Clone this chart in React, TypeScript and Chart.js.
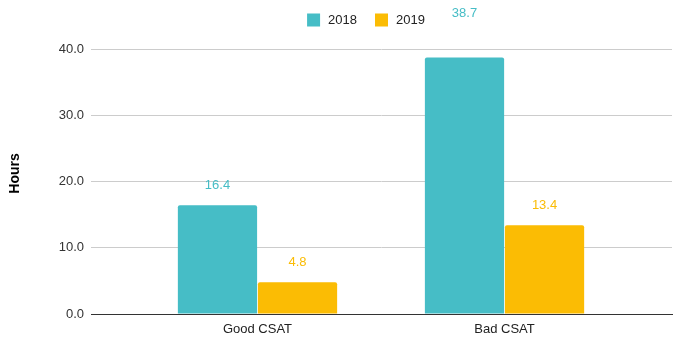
import React, { useEffect, useRef } from "react";
import { Chart, registerables } from "chart.js";

Chart.register(...registerables);

const categories = ["Good CSAT", "Bad CSAT"];
const seriesNames = ["2018", "2019"];
const values2018 = [16.4, 38.7];
const values2019 = [4.8, 13.4];
const yTicks = [0, 10, 20, 30, 40];
const yTitle = "Hours";
const colors = ["#46BDC6", "#FBBC04"];

const FONT = "'Liberation Sans', Arial, sans-serif";

const valueLabels = {
  id: "valueLabels",
  afterDatasetsDraw(chart: any) {
    const ctx = chart.ctx;
    const top = chart.chartArea.top;
    ctx.save();
    ctx.font = `13px ${FONT}`;
    ctx.textAlign = "center";
    ctx.textBaseline = "middle";
    chart.data.datasets.forEach((ds: any, di: number) => {
      const meta = chart.getDatasetMeta(di);
      meta.data.forEach((bar: any, i: number) => {
        const v = ds.data[i].y;
        let y = bar.y - 20;
        if (y < top) y = top - 36;
        ctx.fillStyle = colors[di];
        ctx.fillText(v.toFixed(1), bar.x, y);
      });
    });
    ctx.restore();
  },
};

const customLegend = {
  id: "customLegend",
  afterDraw(chart: any) {
    const ctx = chart.ctx;
    ctx.save();
    ctx.font = `13px ${FONT}`;
    ctx.textBaseline = "middle";
    ctx.textAlign = "left";
    const box = 13;
    const gap = 8;
    const itemGap = 18;
    const widths = seriesNames.map((n) => ctx.measureText(n).width);
    const total =
      widths.reduce((a, w) => a + box + gap + w, 0) + itemGap * (seriesNames.length - 1);
    let x = 366 - total / 2;
    const cy = 20;
    seriesNames.forEach((n, i) => {
      ctx.fillStyle = colors[i];
      ctx.fillRect(x, cy - box / 2, box, box);
      x += box + gap;
      ctx.fillStyle = "#222";
      ctx.fillText(n, x, cy + 0.5);
      x += widths[i] + itemGap;
    });
    // y-axis title
    const ca = chart.chartArea;
    ctx.translate(15, (ca.top + ca.bottom) / 2 - 8);
    ctx.rotate(-Math.PI / 2);
    ctx.font = `bold 14px ${FONT}`;
    ctx.fillStyle = "#000";
    ctx.textAlign = "center";
    ctx.textBaseline = "middle";
    ctx.fillText(yTitle, 0, 0);
    ctx.restore();
  },
};

export default function App() {
  const ref = useRef<HTMLCanvasElement>(null);
  useEffect(() => {
    if (!ref.current) return;
    const chart = new Chart(ref.current, {
      type: "bar",
      data: {
        datasets: [
          {
            label: seriesNames[0],
            data: categories.map((_, i) => ({ x: i, y: values2018[i] })),
            backgroundColor: colors[0],
            borderRadius: 2,
            borderSkipped: "bottom",
          },
          {
            label: seriesNames[1],
            data: categories.map((_, i) => ({ x: i, y: values2019[i] })),
            backgroundColor: colors[1],
            borderRadius: 2,
            borderSkipped: "bottom",
          },
        ] as any,
      },
      options: {
        animation: false,
        responsive: false,
        layout: { padding: { top: 49, right: 20, left: 0, bottom: 0 } },
        categoryPercentage: 0.648,
        barPercentage: 0.99,
        plugins: {
          legend: { display: false },
          tooltip: { enabled: false },
        },
        scales: {
          x: {
            type: "linear",
            offset: false,
            min: -0.674,
            max: 1.678,
            bounds: "data",
            afterBuildTicks: (scale: any) => {
              scale.ticks = categories.map((_, i) => ({ value: i }));
            },
            afterFit: (scale: any) => {
              scale.height = 42;
            },
            grid: { display: false, drawTicks: false, offset: false },
            border: { display: true, color: "#333", width: 1 },
            ticks: {
              padding: 8,
              color: "#222",
              font: { family: FONT, size: 13 },
              callback: (v: any) => categories[Math.round(Number(v))] ?? "",
            },
          },
          y: {
            min: 0,
            max: 40,
            afterBuildTicks: (scale: any) => {
              scale.ticks = yTicks.map((v) => ({ value: v }));
            },
            afterFit: (scale: any) => {
              scale.width = 91;
            },
            grid: { color: "#cccccc", drawTicks: false },
            border: { display: false },
            ticks: {
              padding: 7,
              color: "#333",
              font: { family: FONT, size: 13 },
              callback: (v: any) => Number(v).toFixed(1),
            },
            title: { display: false },
          },
        },
      } as any,
      plugins: [valueLabels, customLegend],
    });
    return () => chart.destroy();
  }, []);
  return (
    <div style={{ position: "fixed", left: 0, top: 0, width: 692, height: 356, background: "#fff" }}>
      <canvas ref={ref} width={692} height={356} style={{ display: "block" }} />
    </div>
  );
}
